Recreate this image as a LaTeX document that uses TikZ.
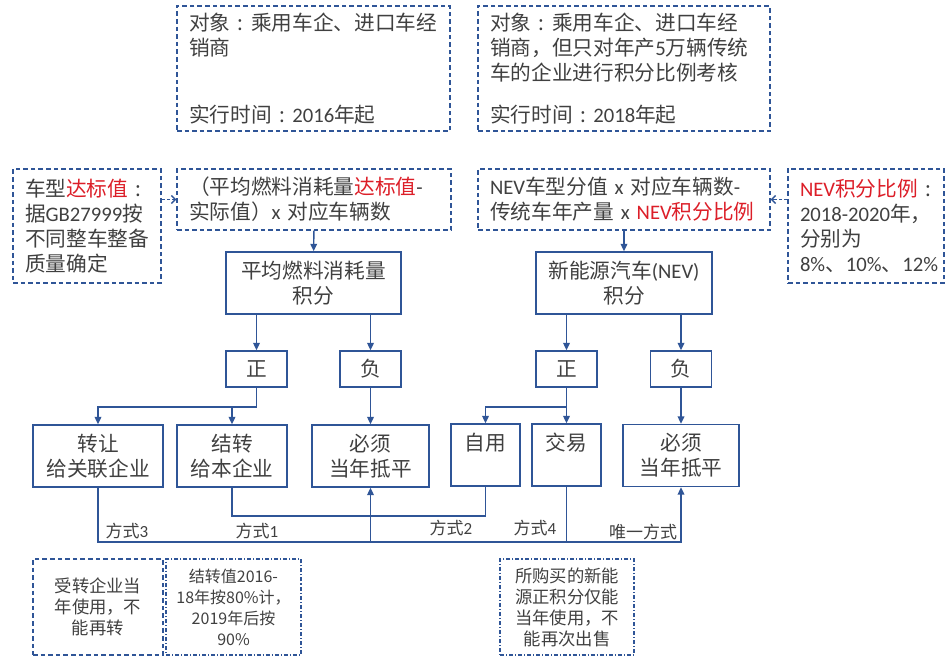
\documentclass[tikz,border=0pt]{standalone}
\usepackage{fontspec}
\setmainfont{Noto Sans CJK SC}
\newfontfamily\lat{Carlito}
\usetikzlibrary{arrows.meta}
\newdimen\pxu \pxu=0.75pt
\newcommand{\fc}{\makebox[1em]{:}}
\definecolor{lblue}{RGB}{47,85,151}
\definecolor{tgray}{RGB}{64,64,64}
\definecolor{hred}{RGB}{220,30,40}
\tikzset{
  ink/.style={text=tgray, inner sep=0pt, font=\fontsize{15.5}{18.75}\selectfont},
  dbox/.style={ink, draw=lblue, line width=1pt, dash pattern=on 3.5pt off 2.2pt, align=left, inner xsep=12\pxu},
  sbox/.style={ink, draw=lblue, line width=1.2pt, align=center, minimum height=62\pxu},
  sign/.style={sbox, minimum width=61\pxu, minimum height=36\pxu},
  note/.style={ink, draw=lblue, line width=1pt, dash pattern=on 3.5pt off 2.2pt, align=center,
    minimum height=96\pxu, font=\fontsize{13}{15.75}\selectfont},
  dotnote/.style={note, dash pattern=on 3pt off 1.5pt on 0.8pt off 1.5pt},
  lab/.style={ink, font=\fontsize{12.75}{15}\selectfont},
  link/.style={draw=lblue, line width=1.1pt, -{Triangle[length=5.5pt,width=5pt]}},
  line/.style={draw=lblue, line width=1.1pt},
  dlink/.style={draw=lblue, line width=1pt, dash pattern=on 2.5pt off 1.5pt, -{Straight Barb[length=3pt,width=6pt]}}
}
\begin{document}
\begin{tikzpicture}[x=0.75pt, y=-0.75pt]
  \useasboundingbox (0,0) rectangle (946,659);

  \node[dbox, text width=249\pxu, minimum height=125\pxu] (obja) at (313.5,68.5)
    {对象\fc 乘用车企、进口车经\\销商\\[31.5pt]实行时间\fc{\lat 2016}年起};
  \node[dbox, text width=268\pxu, minimum height=125\pxu] (objb) at (624,68.5)
    {对象\fc 乘用车企、进口车经\\销商，但只对年产{\lat 5}万辆传统\\车的企业进行积分比例考核\\[12.75pt]实行时间\fc{\lat 2018}年起};

  \node[dbox, text width=124\pxu, minimum height=114\pxu] (std) at (87,226)
    {车型{\color{hred}达标值}\fc\\据{\lat GB27999}按\\不同整车整备\\质量确定};
  \node[dbox, text width=250\pxu, minimum height=61\pxu] (fcf) at (314,199.5)
    {（平均燃料消耗量{\color{hred}达标值}{\lat -}\\实际值）{\lat x }对应车辆数};
  \node[dbox, text width=268\pxu, minimum height=61\pxu] (fnev) at (624,199.5)
    {{\lat NEV}车型分值{\lat\ x }对应车辆数{\lat -}\\传统车年产量{\lat\ x }{\color{hred}{\lat NEV}积分比例}};
  \node[dbox, text width=132\pxu, minimum height=114\pxu] (ratio) at (866,226)
    {{\color{hred}{\lat NEV}积分比例}\fc\\{\lat 2018-2020}年，\\分别为\\{\lat 8\%}、{\lat 10\%}、{\lat 12\%}};

  \node[sbox, minimum width=175\pxu] (cafc) at (313.5,283) {平均燃料消耗量\\积分};
  \node[sbox, minimum width=176\pxu] (nev) at (624,283) {新能源汽车{\lat (NEV)}\\积分};

  \node[sign] (pa) at (256.5,369) {正};
  \node[sign] (na) at (370.5,369) {负};
  \node[sign] (pb) at (566.5,369) {正};
  \node[sign] (nb) at (681,369) {负};

  \node[sbox, minimum width=130\pxu] (tr) at (98,456) {转让\\给关联企业};
  \node[sbox, minimum width=110\pxu] (cf) at (232,456) {结转\\给本企业};
  \node[sbox, minimum width=117\pxu] (offa) at (370.5,456) {必须\\当年抵平};
  \node[sbox, minimum width=69\pxu] (self) at (485.5,455) {自用\\\phantom{自}};
  \node[sbox, minimum width=69\pxu] (trade) at (566.5,455) {交易\\\phantom{交}};
  \node[sbox, minimum width=116\pxu] (offb) at (681,455.5) {必须\\当年抵平};

  \node[note, minimum width=130\pxu] (notea) at (98,607) {受转企业当\\年使用，不\\能再转};
  \node[dotnote, minimum width=135\pxu, font=\fontsize{12}{15.75}\selectfont] (noteb) at (233.5,607)
    {结转值2016-\\18年按80\%计，\\2019年后按\\90\%};
  \node[dotnote, minimum width=134\pxu] (notec) at (567,607) {所购买的新能\\源正积分仅能\\当年使用，不\\能再次出售};

  \node[lab] (ma) at (127,531) {方式{\lat 3}};
  \node[lab] (mb) at (257,531) {方式{\lat 1}};
  \node[lab] (mc) at (451,528) {方式{\lat 2}};
  \node[lab] (md) at (535,528) {方式{\lat 4}};
  \node[lab] (me) at (643,532) {唯一方式};

  \draw[dlink] (std.east |- fcf.west) -- (fcf.west);
  \draw[dlink] (ratio.west |- fnev.east) -- (fnev.east);
  \draw[link] (fcf) -- (cafc);
  \draw[link] (fnev) -- (nev);
  \draw[link] (cafc.south -| pa) -- (pa.north);
  \draw[link] (cafc.south -| na) -- (na.north);
  \draw[link] (nev.south -| pb) -- (pb.north);
  \draw[link] (nev.south -| nb) -- (nb.north);
  \draw[link] (pa.south) -- ++(0,19) -| (tr.north);
  \draw[link] (pa.south) -- ++(0,19) -| (cf.north);
  \draw[link] (na) -- (offa);
  \draw[link] (pb.south) -- ++(0,19) -| (self.north);
  \draw[link] (pb.south) -- ++(0,19) -| (trade.north);
  \draw[link] (nb) -- (offb);
  \draw[line] (cf.south) -- ++(0,28) -| (self.south);
  \coordinate (bus) at (98,542);
  \draw[link] (tr.south) -- (bus) -| (offb.south);
  \draw[link] (bus -| offa) -- (offa.south);
  \draw[line] (trade.south) -- (trade.south |- bus);
\end{tikzpicture}
\end{document}
